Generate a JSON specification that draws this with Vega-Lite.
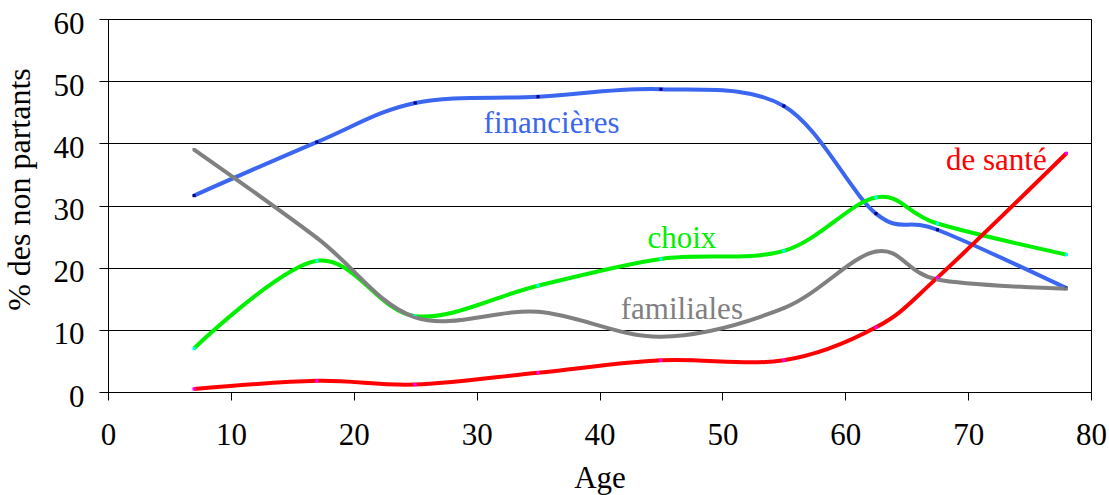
{
  "$schema": "https://vega.github.io/schema/vega-lite/v6.json",
  "width": 983,
  "height": 373,
  "autosize": {"type": "none"},
  "padding": {"left": 108, "top": 19, "right": 18, "bottom": 103},
  "background": "white",
  "config": {
    "font": "Liberation Serif",
    "view": {"stroke": "black", "strokeWidth": 1}
  },
  "datasets": {
    "series": [
      {"cause": "financières", "age": 7, "value": 31.6},
      {"cause": "financières", "age": 17, "value": 40.2},
      {"cause": "financières", "age": 25, "value": 46.5},
      {"cause": "financières", "age": 35, "value": 47.5},
      {"cause": "financières", "age": 45, "value": 48.7},
      {"cause": "financières", "age": 55, "value": 46.0},
      {"cause": "financières", "age": 62.5, "value": 28.7},
      {"cause": "financières", "age": 67.5, "value": 26.1},
      {"cause": "financières", "age": 78, "value": 16.7},
      {"cause": "choix", "age": 7, "value": 7.0},
      {"cause": "choix", "age": 17, "value": 21.1},
      {"cause": "choix", "age": 25, "value": 12.2},
      {"cause": "choix", "age": 35, "value": 17.1},
      {"cause": "choix", "age": 45, "value": 21.4},
      {"cause": "choix", "age": 55, "value": 22.7},
      {"cause": "choix", "age": 62.5, "value": 31.3},
      {"cause": "choix", "age": 67.5, "value": 27.1},
      {"cause": "choix", "age": 78, "value": 22.1},
      {"cause": "familiales", "age": 7, "value": 39.0},
      {"cause": "familiales", "age": 17, "value": 24.8},
      {"cause": "familiales", "age": 25, "value": 12.0},
      {"cause": "familiales", "age": 35, "value": 12.9},
      {"cause": "familiales", "age": 45, "value": 8.9},
      {"cause": "familiales", "age": 55, "value": 13.5},
      {"cause": "familiales", "age": 62.5, "value": 22.6},
      {"cause": "familiales", "age": 67.5, "value": 18.1},
      {"cause": "familiales", "age": 78, "value": 16.6},
      {"cause": "de santé", "age": 7, "value": 0.5},
      {"cause": "de santé", "age": 17, "value": 1.8},
      {"cause": "de santé", "age": 25, "value": 1.2},
      {"cause": "de santé", "age": 35, "value": 3.1},
      {"cause": "de santé", "age": 45, "value": 5.1},
      {"cause": "de santé", "age": 55, "value": 5.1},
      {"cause": "de santé", "age": 62.5, "value": 10.4},
      {"cause": "de santé", "age": 67.5, "value": 18.4},
      {"cause": "de santé", "age": 78, "value": 38.4}
    ],
    "labels": [
      {"cause": "financières", "age": 36.1, "value": 41.6},
      {"cause": "choix", "age": 46.7, "value": 23.1},
      {"cause": "familiales", "age": 46.7, "value": 11.7},
      {"cause": "de santé", "age": 72.3, "value": 35.7}
    ]
  },
  "encoding": {
    "x": {
      "field": "age", "type": "quantitative",
      "scale": {"domain": [0, 80], "nice": false},
      "axis": {
        "title": "Age", "values": [0,10,20,30,40,50,60,70,80],
        "grid": false, "domainColor": "black", "tickColor": "black",
        "tickSize": 8, "labelPadding": 20, "labelFontSize": 31, "labelColor": "black",
        "labelFont": "Liberation Serif", "titleFont": "Liberation Serif",
        "titleFontSize": 31, "titleFontWeight": "normal", "titleColor": "black",
        "titleBaseline": "alphabetic", "titleY": 95, "labelFlush": false
      }
    },
    "y": {
      "field": "value", "type": "quantitative",
      "scale": {"domain": [0, 60], "nice": false},
      "axis": {
        "title": "% des non partants", "values": [0,10,20,30,40,50,60],
        "grid": true, "gridColor": "black", "gridWidth": 1, "gridOpacity": 1,
        "domainColor": "black", "tickColor": "black", "tickSize": 9,
        "labelPadding": 15, "labelFontSize": 31, "labelColor": "black", "labelOffset": 5,
        "labelFont": "Liberation Serif", "titleFont": "Liberation Serif",
        "titleFontSize": 32, "titleFontWeight": "normal", "titleColor": "black",
        "titleBaseline": "alphabetic", "titleX": -79, "titleY": 170, "labelFlush": false
      }
    }
  },
  "layer": [
    {
      "data": {"name": "series"},
      "mark": {"type": "line", "interpolate": "cardinal", "strokeWidth": 4},
      "encoding": {
        "stroke": {
          "field": "cause", "type": "nominal", "legend": null,
          "scale": {"domain": ["financières", "choix", "familiales", "de santé"],
                    "range": ["#3A66F0", "#00F000", "#808080", "#FF0000"]}
        },
        "detail": {"field": "cause"}
      }
    },
    {
      "data": {"name": "series"},
      "mark": {"type": "square", "size": 10, "opacity": 1},
      "encoding": {
        "fill": {
          "field": "cause", "type": "nominal", "legend": null,
          "scale": {"domain": ["financières", "choix", "familiales", "de santé"],
                    "range": ["#000080", "#00FFFF", "#808080", "#FF00FF"]}
        }
      }
    },
    {
      "data": {"name": "labels"},
      "mark": {"type": "text", "font": "Liberation Serif", "fontSize": 31, "align": "center", "baseline": "alphabetic"},
      "encoding": {
        "text": {"field": "cause"},
        "color": {
          "field": "cause", "type": "nominal", "legend": null,
          "scale": {"domain": ["financières", "choix", "familiales", "de santé"],
                    "range": ["#3A66F0", "#00F000", "#808080", "#FF0000"]}
        }
      }
    }
  ],
  "resolve": {"scale": {"fill": "independent", "color": "independent"}}
}
